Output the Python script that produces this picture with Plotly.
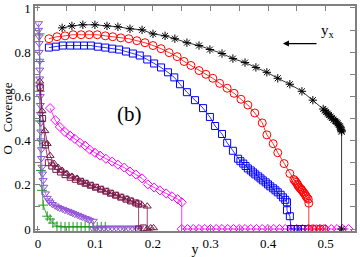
import plotly.graph_objects as go

# ---------------- data ----------------
black_x = [0.042, 0.059, 0.078, 0.099, 0.120, 0.139, 0.160, 0.181, 0.200, 0.221, 0.238,
           0.259, 0.280, 0.299, 0.320, 0.339, 0.360, 0.379, 0.398, 0.417, 0.438, 0.459,
           0.478, 0.496, 0.499, 0.501, 0.504, 0.506, 0.509, 0.511, 0.514, 0.517, 0.519,
           0.521, 0.523, 0.525, 0.526, 0.527, 0.528, 0.528, 0.528]
black_y = [0.910, 0.919, 0.924, 0.924, 0.919, 0.915, 0.906, 0.901, 0.883, 0.874, 0.861,
           0.843, 0.830, 0.812, 0.794, 0.771, 0.753, 0.731, 0.709, 0.682, 0.655, 0.623,
           0.583, 0.543, 0.536, 0.529, 0.522, 0.516, 0.509, 0.502, 0.495, 0.489, 0.484,
           0.478, 0.471, 0.465, 0.458, 0.451, 0.445, 0.440, 0.0]

red_x = [0.019, 0.033, 0.047, 0.061, 0.075, 0.089, 0.103, 0.117, 0.130, 0.144, 0.158,
         0.172, 0.186, 0.200, 0.214, 0.228, 0.242, 0.254, 0.266, 0.280, 0.292, 0.304,
         0.316, 0.329, 0.341, 0.353, 0.365, 0.377, 0.390, 0.398, 0.409, 0.417, 0.428,
         0.438, 0.445, 0.447, 0.449, 0.451, 0.452, 0.454, 0.456, 0.458, 0.459, 0.461,
         0.463, 0.465, 0.466, 0.468, 0.470, 0.471, 0.471, 0.477, 0.484, 0.491, 0.497]
red_y = [0.861, 0.870, 0.874, 0.879, 0.879, 0.879, 0.879, 0.874, 0.870, 0.865, 0.861,
         0.852, 0.843, 0.830, 0.816, 0.798, 0.780, 0.758, 0.740, 0.717, 0.700, 0.682,
         0.659, 0.637, 0.614, 0.587, 0.561, 0.525, 0.480, 0.426, 0.386, 0.345, 0.296,
         0.251, 0.224, 0.218, 0.211, 0.204, 0.197, 0.190, 0.184, 0.179, 0.175, 0.168,
         0.161, 0.155, 0.148, 0.141, 0.135, 0.117, 0.0, 0.0, 0.0, 0.0, 0.0]

blue_x = [0.019, 0.031, 0.043, 0.056, 0.068, 0.080, 0.092, 0.104, 0.117, 0.129, 0.141,
          0.153, 0.165, 0.177, 0.190, 0.202, 0.214, 0.226, 0.237, 0.247, 0.259, 0.273,
          0.287, 0.299, 0.308, 0.320, 0.329, 0.339, 0.348, 0.352, 0.357, 0.361, 0.365,
          0.370, 0.374, 0.378, 0.383, 0.387, 0.391, 0.396, 0.400, 0.404, 0.409, 0.413,
          0.417, 0.422, 0.426, 0.430, 0.433, 0.433, 0.438, 0.440, 0.446, 0.452, 0.458,
          0.464]
blue_y = [0.821, 0.825, 0.830, 0.830, 0.830, 0.830, 0.830, 0.825, 0.821, 0.816, 0.812,
          0.803, 0.794, 0.785, 0.767, 0.749, 0.731, 0.709, 0.686, 0.655, 0.619, 0.583,
          0.547, 0.507, 0.466, 0.430, 0.390, 0.354, 0.318, 0.307, 0.296, 0.285, 0.274,
          0.265, 0.256, 0.247, 0.238, 0.229, 0.220, 0.211, 0.202, 0.193, 0.184, 0.175,
          0.166, 0.155, 0.143, 0.132, 0.121, 0.085, 0.058, 0.0, 0.0, 0.0, 0.0,
          0.0]

mag_x = [0.021, 0.030, 0.038, 0.047, 0.056, 0.064, 0.073, 0.082, 0.090, 0.099, 0.108,
         0.118, 0.129, 0.139, 0.150, 0.160, 0.170, 0.181, 0.191, 0.202, 0.212, 0.223,
         0.233, 0.243, 0.250, 0.250, 0.260, 0.270, 0.280, 0.290, 0.300, 0.310, 0.320,
         0.330, 0.340, 0.350, 0.360, 0.370, 0.380, 0.390, 0.400, 0.410, 0.420, 0.430,
         0.440, 0.450, 0.460, 0.470, 0.480, 0.490, 0.500, 0.510, 0.520, 0.530, 0.540]
mag_y = [0.547, 0.493, 0.462, 0.439, 0.422, 0.408, 0.390, 0.377, 0.359, 0.345, 0.332,
         0.318, 0.305, 0.291, 0.278, 0.260, 0.247, 0.229, 0.202, 0.188, 0.175, 0.161,
         0.148, 0.135, 0.121, 0.0, 0.0, 0.0, 0.0, 0.0, 0.0, 0.0, 0.0,
         0.0, 0.0, 0.0, 0.0, 0.0, 0.0, 0.0, 0.0, 0.0, 0.0, 0.0,
         0.0, 0.0, 0.0, 0.0, 0.0, 0.0, 0.0, 0.0, 0.0, 0.0, 0.0]

mar_tri_x = [0.003, 0.007, 0.012, 0.016, 0.021, 0.028, 0.035, 0.042, 0.050, 0.059, 0.068,
             0.077, 0.085, 0.094, 0.103, 0.111, 0.120, 0.129, 0.137, 0.146, 0.155, 0.163,
             0.172, 0.181, 0.190, 0.190, 0.196, 0.201]
mar_tri_y = [0.668, 0.534, 0.444, 0.386, 0.332, 0.296, 0.278, 0.265, 0.251, 0.238, 0.229,
             0.215, 0.206, 0.197, 0.188, 0.179, 0.170, 0.161, 0.152, 0.143, 0.135, 0.126,
             0.117, 0.108, 0.103, 0.0, 0.005, 0.005]

mar_sq_x = [0.004, 0.008, 0.013, 0.018, 0.024, 0.031, 0.039, 0.047, 0.056, 0.065, 0.074,
            0.082, 0.091, 0.100, 0.109, 0.118, 0.126, 0.135, 0.144, 0.153, 0.161, 0.170,
            0.175, 0.175, 0.183]
mar_sq_y = [0.640, 0.500, 0.380, 0.300, 0.285, 0.270, 0.258, 0.246, 0.234, 0.225, 0.216,
            0.207, 0.198, 0.189, 0.180, 0.171, 0.162, 0.153, 0.144, 0.135, 0.127, 0.118,
            0.113, 0.0, 0.005]

pur_x = [0.001, 0.001, 0.002, 0.002, 0.002, 0.003, 0.003, 0.003, 0.003, 0.004, 0.004,
         0.004, 0.005, 0.005, 0.005, 0.006, 0.006, 0.007, 0.008, 0.009, 0.010, 0.013,
         0.016, 0.019, 0.021, 0.025, 0.030, 0.034, 0.038, 0.043, 0.047, 0.052, 0.056,
         0.060, 0.064, 0.069, 0.073, 0.077, 0.082, 0.086, 0.090, 0.096, 0.096, 0.101,
         0.108, 0.115, 0.122, 0.129, 0.136, 0.143, 0.150, 0.157, 0.164, 0.171, 0.177]
pur_y = [0.930, 0.900, 0.870, 0.840, 0.800, 0.760, 0.720, 0.680, 0.640, 0.600, 0.560,
         0.520, 0.480, 0.440, 0.400, 0.360, 0.320, 0.280, 0.250, 0.220, 0.190, 0.160,
         0.140, 0.128, 0.120, 0.112, 0.105, 0.099, 0.094, 0.090, 0.085, 0.081, 0.076,
         0.072, 0.067, 0.063, 0.058, 0.054, 0.049, 0.045, 0.040, 0.036, 0.0, 0.005,
         0.005, 0.005, 0.005, 0.005, 0.005, 0.005, 0.005, 0.005, 0.005, 0.005, 0.005]

grn_x = [0.003, 0.003, 0.003, 0.003, 0.003, 0.005, 0.007, 0.009, 0.016, 0.021, 0.026,
         0.033, 0.040, 0.047, 0.054, 0.061, 0.068, 0.075, 0.082, 0.089, 0.096, 0.103,
         0.110, 0.117]
grn_y = [0.883, 0.758, 0.623, 0.489, 0.400, 0.265, 0.175, 0.108, 0.058, 0.045, 0.027,
         0.013, 0.010, 0.010, 0.010, 0.010, 0.010, 0.010, 0.010, 0.010, 0.010, 0.010,
         0.010, 0.010]

x_ticks = [0, 0.1, 0.2, 0.3, 0.4, 0.5]
x_labels = ["0", "0.1", "0.2", "0.3", "0.4", "0.5"]
y_ticks = [0, 0.2, 0.4, 0.6, 0.8, 1.0]
y_labels = ["0", "0.2", "0.4", "0.6", "0.8", "1"]

# ---------------- figure ----------------
fig = go.Figure()

def add(x, y, color, symbol, size=7, lw=0.8):
    fig.add_trace(go.Scatter(
        x=x, y=y, mode="lines+markers",
        line=dict(color=color, width=lw),
        marker=dict(symbol=symbol, size=size, color=color,
                    line=dict(color=color, width=1)),
        showlegend=False))

add(grn_x, grn_y, "#1e9a1e", "cross-thin-open", 7)
add(pur_x, pur_y, "#9050d8", "triangle-down-open", 7)
add(mar_sq_x, mar_sq_y, "#7a1848", "square-open", 6)
add(mar_tri_x, mar_tri_y, "#7a1848", "triangle-up-open", 7)
add(mag_x, mag_y, "#ff00ff", "diamond-open", 7)
add(blue_x, blue_y, "#0000ff", "square-open", 7)
add(red_x, red_y, "#ff0000", "circle-open", 8)
add(black_x, black_y, "#000000", "asterisk-open", 7)

serif = "Liberation Serif"
fig.add_annotation(x=0.160, y=0.52, text="(b)", showarrow=False,
                   font=dict(family=serif, size=21, color="black"))
fig.add_annotation(x=0.504, y=0.895, text="y<sub>x</sub>", showarrow=False,
                   font=dict(family=serif, size=15, color="black"))
fig.add_annotation(x=0.426, y=0.839, ax=0.487, ay=0.839, xref="x", yref="y",
                   axref="x", ayref="y", text="", showarrow=True,
                   arrowhead=2, arrowsize=1, arrowwidth=1.2, arrowcolor="black")

axis_common = dict(showline=True, linecolor="#808080", linewidth=1.5, mirror="ticks",
                   ticks="inside", ticklen=5, tickcolor="#808080", showgrid=False,
                   zeroline=False, automargin=False, ticklabeloverflow="allow",
                   tickfont=dict(family=serif, size=13, color="black"))

fig.update_layout(
    width=360, height=257,
    margin=dict(l=35, r=5, t=6, b=26),
    paper_bgcolor="white", plot_bgcolor="white",
    xaxis=dict(range=[-0.0052, 0.5513], tickvals=x_ticks, ticktext=x_labels,
               minor=dict(dtick=0.05, tick0=0, ticks="inside", ticklen=5,
                          tickcolor="#808080"),
               title=dict(text="y", standoff=4,
                          font=dict(family=serif, size=14, color="black")),
               **axis_common),
    yaxis=dict(range=[-0.009, 1.009], tickvals=y_ticks, ticktext=y_labels,
               minor=dict(dtick=0.1, tick0=0, ticks="inside", ticklen=5,
                          tickcolor="#808080"),
               title=dict(text="O&nbsp;&nbsp;&nbsp;&nbsp;Coverage", standoff=0,
                          font=dict(family=serif, size=13, color="black")),
               **axis_common),
)

fig.write_html("out.html", config={"displayModeBar": False},
               post_script="document.body.style.margin='0';document.body.style.overflow='hidden';")
